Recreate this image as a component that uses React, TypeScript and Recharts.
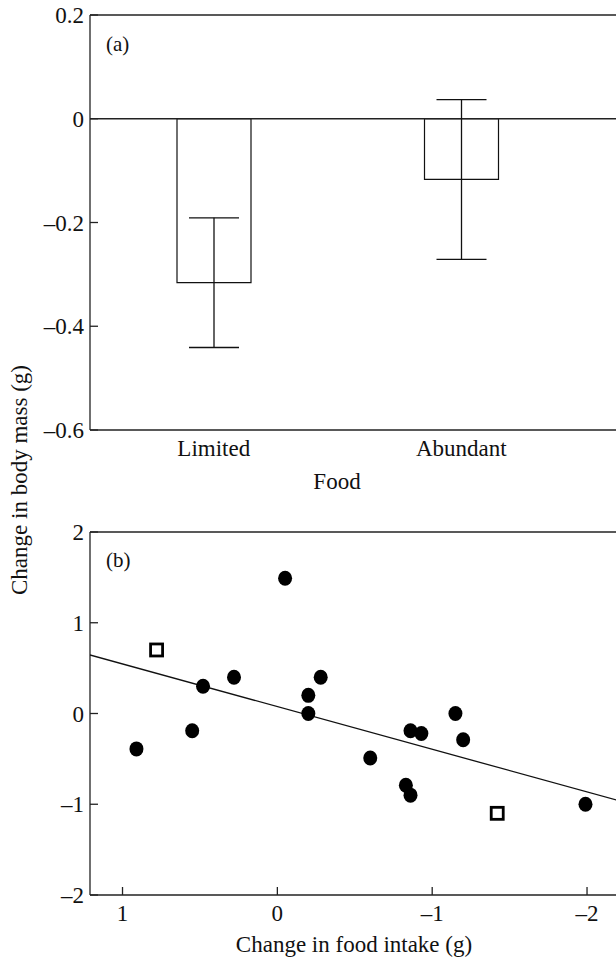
import {
  ComposedChart,
  Bar,
  ErrorBar,
  XAxis,
  YAxis,
  ReferenceLine,
  ScatterChart,
  Scatter,
  Label,
} from "recharts";

// panel (a): mean change in body mass by food treatment
const foodGroups = ["Limited", "Abundant"];
const massChange = [-0.316, -0.117];
const massSE = [0.125, 0.154];

// panel (b): change in food intake vs change in body mass
const circleIntake = [-0.05, 0.48, 0.28, -0.28, -0.2, -0.2, 0.55, 0.91, -0.6, -0.83, -0.86, -0.86, -0.93, -1.15, -1.2, -1.99];
const circleMass = [1.49, 0.3, 0.4, 0.4, 0.2, 0, -0.19, -0.39, -0.49, -0.79, -0.9, -0.19, -0.22, 0, -0.29, -1.0];
const squareIntake = [0.78, -1.42];
const squareMass = [0.7, -1.1];
const fitIntake = [1.21, -2.2];
const fitMass = [0.645, -0.958];

const yTicksA = [0.2, 0, -0.2, -0.4, -0.6];
const yTicksB = [2, 1, 0, -1, -2];
const xTicksB = [1, 0, -1, -2];

const FONT = "'Liberation Serif', 'DejaVu Serif', serif";
const FS = 23;
const INK = "#222";
const AXIS_W = 1.3;

const barData = foodGroups.map((g, i) => ({ food: g, mean: massChange[i], se: massSE[i] }));
const circles = circleIntake.map((x, i) => ({ x, y: circleMass[i] }));
const squares = squareIntake.map((x, i) => ({ x, y: squareMass[i] }));
const fit = fitIntake.map((x, i) => ({ x, y: fitMass[i] }));

const fmt = (v: number) => (v < 0 ? "\u2013" + String(Math.abs(v)) : String(v));

// y ticks drawn inward from the axis
function YTick(props: any) {
  const { x, y, payload } = props;
  const axisX = x + 6;
  return (
    <g>
      <line x1={axisX} x2={axisX + 8} y1={y} y2={y} stroke={INK} strokeWidth={AXIS_W} />
      <text x={x} y={y} dy={8} textAnchor="end" fontFamily={FONT} fontSize={FS} fill="#111">
        {fmt(payload.value)}
      </text>
    </g>
  );
}

function XTickB(props: any) {
  const { x, y, payload } = props;
  const axisY = y - 10;
  return (
    <g>
      <line x1={x} x2={x} y1={axisY} y2={axisY - 8} stroke={INK} strokeWidth={AXIS_W} />
      <text x={x} y={y} dy={16} textAnchor="middle" fontFamily={FONT} fontSize={FS} fill="#111">
        {fmt(payload.value)}
      </text>
    </g>
  );
}

function Dot(props: any) {
  return <ellipse cx={props.cx} cy={props.cy} rx={7} ry={7.5} fill="#000" />;
}

function OpenSquare(props: any) {
  return (
    <rect x={props.cx - 6} y={props.cy - 6} width={12} height={12} fill="#fff" stroke="#000" strokeWidth={2.8} />
  );
}

export default function App() {
  return (
    <div
      style={{
        position: "absolute",
        left: 0,
        top: 0,
        width: 616,
        height: 960,
        overflow: "hidden",
        background: "#fff",
      }}
    >
      {/* panel (a) */}
      <div style={{ position: "absolute", left: 0, top: 0 }}>
        <ComposedChart
          width={640}
          height={500}
          data={barData}
          margin={{ top: 15, right: 24, left: 0, bottom: 0 }}
        >
          <XAxis
            dataKey="food"
            height={70}
            padding={{ left: 0, right: 31 }}
            axisLine={{ stroke: INK, strokeWidth: AXIS_W }}
            tickLine={false}
            tickSize={0}
            tickMargin={10}
            tick={{ fontFamily: FONT, fontSize: FS, fill: "#111" }}
          >
            <Label
              value="Food"
              position="insideBottom"
              offset={11}
              dx={-16}
              style={{ fontFamily: FONT, fontSize: FS, fill: "#111" }}
            />
          </XAxis>
          <YAxis
            type="number"
            domain={[-0.6, 0.2]}
            ticks={yTicksA}
            width={90}
            axisLine={{ stroke: INK, strokeWidth: AXIS_W }}
            tickLine={false}
            tickSize={0}
            tickMargin={6}
            tick={<YTick />}
          />
          <ReferenceLine y={0.2} stroke={INK} strokeWidth={AXIS_W} />
          <ReferenceLine y={0} stroke={INK} strokeWidth={AXIS_W} />
          <Bar dataKey="mean" barSize={74} fill="#fff" stroke="#111" strokeWidth={1.2} isAnimationActive={false}>
            <ErrorBar dataKey="se" width={25} stroke="#111" strokeWidth={1.3} direction="y" />
          </Bar>
        </ComposedChart>
      </div>

      {/* panel (b) */}
      <div style={{ position: "absolute", left: 0, top: 500 }}>
        <ScatterChart width={640} height={460} margin={{ top: 32, right: 22, left: 0, bottom: 0 }}>
          <XAxis
            type="number"
            dataKey="x"
            domain={[-2.2, 1.21]}
            reversed
            ticks={xTicksB}
            height={65}
            allowDataOverflow
            axisLine={{ stroke: INK, strokeWidth: AXIS_W }}
            tickLine={false}
            tickSize={0}
            tickMargin={10}
            tick={<XTickB />}
          >
            <Label
              value="Change in food intake (g)"
              position="insideBottom"
              offset={8}
              style={{ fontFamily: FONT, fontSize: FS, fill: "#111" }}
            />
          </XAxis>
          <YAxis
            type="number"
            dataKey="y"
            domain={[-2, 2]}
            ticks={yTicksB}
            width={90}
            axisLine={{ stroke: INK, strokeWidth: AXIS_W }}
            tickLine={false}
            tickSize={0}
            tickMargin={6}
            tick={<YTick />}
          />
          <ReferenceLine y={2} stroke={INK} strokeWidth={AXIS_W} />
          <Scatter
            data={fit}
            line={{ stroke: "#111", strokeWidth: 1.3 }}
            shape={() => <g />}
            isAnimationActive={false}
          />
          <Scatter data={circles} shape={<Dot />} isAnimationActive={false} />
          <Scatter data={squares} shape={<OpenSquare />} isAnimationActive={false} />
        </ScatterChart>
      </div>

      {/* panel letters */}
      <div style={{ position: "absolute", left: 106, top: 32, fontFamily: FONT, fontSize: 21, color: "#111" }}>(a)</div>
      <div style={{ position: "absolute", left: 106, top: 548, fontFamily: FONT, fontSize: 21, color: "#111" }}>(b)</div>

      {/* shared y axis title */}
      <div
        style={{
          position: "absolute",
          left: 20,
          top: 480,
          transform: "translate(-50%, -50%) rotate(-90deg)",
          whiteSpace: "nowrap",
          fontFamily: FONT,
          fontSize: FS,
          color: "#111",
        }}
      >
        Change in body mass (g)
      </div>
    </div>
  );
}
